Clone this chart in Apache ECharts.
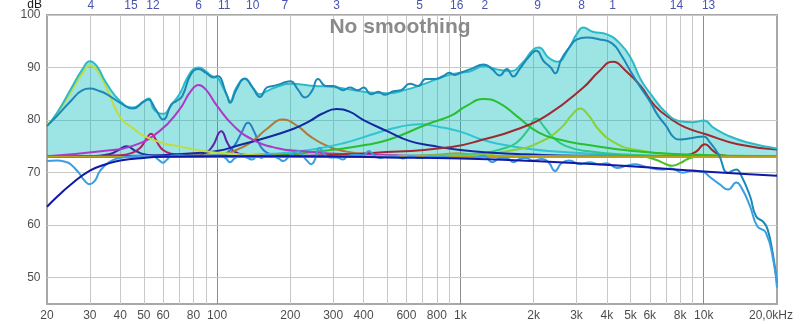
<!DOCTYPE html>
<html><head><meta charset="utf-8">
<script src="https://cdn.jsdelivr.net/npm/echarts@6/dist/echarts.min.js"></script>
<style>html,body{margin:0;padding:0;background:#fff}#c{width:800px;height:324px}</style>
</head><body><div id="c"></div><script>
const FONT = "'Liberation Sans', Arial, sans-serif";

// ---- axis ticks / labels ----
const yTickValues = [50, 60, 70, 80, 90, 100];
const xMinorGrid = [30,40,50,60,70,80,90,200,300,400,500,600,700,800,900,2000,3000,4000,5000,6000,7000,8000,9000];
const xMajorGrid = [100, 1000, 10000];
const xTickValues = [20,30,40,50,60,80,100,200,300,400,600,800,1000,2000,3000,4000,5000,6000,8000,10000,20000];
const xTickLabels = ['20','30','40','50','60','80','100','200','300','400','600','800','1k','2k','3k','4k','5k','6k','8k','10k','20,0kHz'];
const filterLabels = ['4','15','12','6','11','10','7','3','5','16','2','9','8','1','14','13'];
const filterLabelFreqs = [30.3,44.3,54.5,84,107,140,190,310,680,966,1259,2077,3148,4220,7730,10470];
const baselineDb = 73;

// ---- curves [Hz, dB] ----
const totalFilter = [[20,78.8],[22,81.4],[25,85.8],[28,89.7],[30,91.2],[32,90.3],[35,87.1],[40,83.6],[45,82.4],[50,83.6],[52.5,84.1],[55,82.0],[60,81.2],[65,83.0],[70,84.9],[75,87.8],[80,89.7],[84,90.0],[90,89.3],[95,88.4],[100,88.1],[105,86.5],[110,84.6],[113,83.6],[120,86.2],[130,87.8],[140,86.2],[150,84.9],[160,85.5],[180,86.5],[200,86.9],[250,86.5],[300,86.3],[400,85.4],[500,85.1],[600,85.8],[700,86.8],[800,87.8],[900,88.6],[1000,89.0],[1100,89.3],[1250,90.3],[1400,89.7],[1600,89.3],[1800,90.9],[2000,93.5],[2100,93.8],[2300,91.9],[2500,91.1],[2800,93.8],[3000,96.3],[3200,97.6],[3500,96.8],[4000,96.3],[4500,94.7],[5000,91.9],[5500,87.8],[6000,85.2],[7000,81.4],[8000,79.8],[9000,79.6],[10000,79.9],[11000,78.5],[12500,77.1],[15000,75.8],[20000,74.6]];
const measurement = [[20,78.9],[22,80.8],[25,83.6],[28,85.7],[30,86.0],[33,85.5],[35,85.0],[40,83.3],[45,82.2],[50,83.5],[52,83.9],[56,82.0],[60,80.1],[65,83.0],[68,83.6],[72,84.6],[78,88.7],[84,89.7],[90,89.0],[97,88.1],[100,88.4],[110,84.6],[113,83.3],[120,85.8],[130,87.9],[140,86.2],[150,84.4],[160,86.2],[170,86.5],[180,86.8],[190,87.2],[200,87.4],[215,85.8],[230,84.3],[245,85.5],[260,87.8],[280,86.5],[300,86.5],[330,85.7],[350,86.2],[380,85.7],[400,86.2],[430,84.9],[460,85.4],[490,84.8],[530,85.5],[570,85.7],[620,86.9],[670,86.5],[720,87.8],[780,87.8],[850,88.4],[900,89.0],[950,88.6],[1000,89.0],[1100,89.7],[1250,90.6],[1350,89.7],[1450,88.5],[1550,89.7],[1650,88.3],[1750,89.7],[1900,91.9],[2050,93.2],[2200,91.2],[2350,90.0],[2450,88.9],[2600,91.6],[2800,93.8],[3000,95.3],[3300,95.7],[3700,95.4],[4200,94.6],[4600,92.2],[5000,89.3],[5500,86.2],[6000,83.6],[6500,80.8],[7000,78.9],[7500,76.8],[8000,76.3],[9000,76.6],[10000,76.9],[10500,76.0],[11500,73.5],[12600,70.0],[13600,70.6],[14300,69.3],[15500,65.5],[16400,61.7],[17600,60.6],[18300,59.2],[19200,54.7],[20000,49.0]];
const predicted = [[20,72.2],[22,72.3],[24,72.0],[25,71.6],[27,70.0],[28.5,68.5],[30,67.8],[31.5,68.5],[33,70.3],[36,72.0],[40,72.8],[45,73.1],[50,73.2],[55,73.0],[58,72.3],[60,71.9],[62,72.4],[65,73.2],[70,73.3],[80,73.0],[90,73.1],[100,73.3],[108,72.8],[113,72.0],[118,72.7],[125,73.3],[133,72.8],[140,72.5],[146,73.2],[152,72.8],[160,73.4],[170,73.2],[180,72.6],[187,72.2],[195,72.8],[205,73.6],[216,74.1],[225,73.2],[235,72.2],[244,71.6],[252,72.4],[264,74.7],[275,73.6],[290,72.9],[310,72.9],[329,72.5],[345,73.2],[370,73.4],[400,73.3],[420,74.1],[440,73.4],[466,72.8],[500,73.1],[540,73.2],[580,72.7],[620,73.1],[680,72.8],[750,73.0],[850,73.0],[950,72.8],[1100,72.8],[1250,73.2],[1350,72.0],[1450,72.7],[1550,72.8],[1650,72.0],[1750,72.6],[1850,72.8],[2000,72.3],[2150,72.6],[2300,72.0],[2450,70.3],[2600,71.8],[2800,72.3],[3100,71.6],[3400,72.0],[3700,71.6],[4000,71.8],[4400,70.9],[4800,71.3],[5200,71.6],[5800,71.1],[6700,70.6],[7300,70.8],[8200,70.0],[9000,70.4],[10000,70.1],[10500,69.3],[11600,67.8],[12600,66.8],[13600,68.1],[14300,67.1],[15500,63.6],[16600,59.8],[18000,58.6],[19400,52.8],[20000,48.1]];
const target = [[20,63.5],[22,65.4],[25,67.7],[30,70.4],[35,71.6],[40,72.3],[50,72.8],[60,73.0],[100,73.1],[200,73.1],[500,72.9],[1000,72.7],[2000,72.2],[5000,71.2],[10000,70.2],[20000,69.4]];

// ---- individual filters [Hz, dB] ----
const filter1 = [[20,73],[200,73.2],[450,73.8],[920,74.9],[1240,76.3],[1700,78.2],[2300,81.1],[3200,86.2],[3700,89.2],[4220,91.1],[4800,89.3],[5500,86.5],[6300,82.7],[7400,80.1],[8400,78.6],[10200,77.3],[13800,75.4],[20000,74.4]];
const filter2 = [[20,73],[150,73.2],[270,74.1],[400,75.2],[510,76.3],[730,79.2],[920,80.9],[1050,82.6],[1250,84],[1450,83.2],[1700,80.8],[2100,77.6],[2600,76.2],[3200,75.4],[5100,74.1],[8000,73.5],[20000,73.1]];
const filter3 = [[20,73],[50,73.2],[80,73.7],[100,74.1],[125,75.3],[150,76.3],[205,78.3],[240,79.8],[270,81.2],[310,82.1],[350,81.6],[400,80],[500,77.9],[620,76],[770,75.1],[1000,74.3],[1350,73.8],[1850,73.5],[3000,73.2],[20000,73]];
const filter4 = [[20,79],[22,81.2],[25,85.2],[28,89],[30,90.4],[32,89.6],[35,86.3],[40,80.5],[45,78.5],[50,77],[60,75.6],[70,75],[85,74.2],[100,73.8],[150,73.3],[250,73.1],[20000,73]];
const filter5 = [[20,73],[100,73.2],[170,73.6],[240,74.3],[330,75.6],[450,77.5],[560,78.7],[680,79.2],[820,78.7],[1000,77.8],[1240,76.2],[1500,75.3],[1850,74.6],[2300,74.1],[3500,73.6],[6000,73.2],[20000,73]];
const filter6 = [[20,73.1],[34,74.1],[45,75.1],[58,77.9],[70,82],[78,85.5],[84,86.7],[90,85.8],[100,82.7],[117,78.9],[140,76.3],[175,74.7],[220,74.1],[350,73.5],[1000,73.1],[20000,73]];
const filter7 = [[20,73],[100,73.3],[120,74.3],[140,76],[160,78.3],[187,80.1],[215,78.8],[240,77],[280,75.2],[340,74],[450,73.4],[700,73.1],[20000,73]];
const filter8 = [[20,73],[1000,73.2],[1700,74.4],[2100,75.7],[2550,78.2],[2900,81.2],[3100,82.2],[3350,81],[3700,78.2],[4300,75.7],[5200,74.4],[8000,73.4],[20000,73.1]];
const filter9 = [[20,73],[800,73.2],[1200,73.6],[1500,74.6],[1700,75.7],[1900,78.2],[2050,80.3],[2200,78.8],[2400,76.7],[2700,75.1],[3300,74.1],[5000,73.4],[8000,73.1],[20000,73]];
const filter10 = [[20,73],[100,73.2],[110,73.8],[118,75.2],[126,77.6],[134,79.5],[142,77.8],[150,75.2],[160,73.8],[180,73.2],[220,73.05],[20000,73]];
const filter11 = [[20,73],[80,73.2],[90,73.8],[96,75.1],[104,77.9],[111,75.4],[118,74],[130,73.4],[170,73.1],[20000,73]];
const filter12 = [[20,73],[40,73.3],[45,73.8],[48,74.6],[50,75.6],[52,76.9],[53.5,77.4],[55,76.9],[57,75.6],[60,74.3],[65,73.6],[75,73.2],[100,73.05],[20000,73]];
const filter13 = [[20,73],[7000,73],[8500,73.3],[9300,74],[10100,75.4],[10900,74.2],[11800,73.3],[14000,73.05],[20000,73]];
const filter14 = [[20,73],[4000,73],[5500,73.1],[6300,72.5],[7000,71.6],[7400,71.3],[8000,71.8],[8600,72.6],[9500,73],[20000,73]];
const filter15 = [[20,73],[30,73.1],[36,73.5],[39,74.2],[42.5,75],[46,74.2],[50,73.5],[58,73.2],[80,73.05],[20000,73]];
const filter16 = [[20,73],[500,73.1],[800,73.4],[966,73.7],[1150,73.4],[1800,73.1],[20000,73]];

const filterSet = [
  [filter16,'#a8a040'],[filter14,'#48c020'],[filter13,'#a02828'],[filter15,'#2030a0'],
  [filter12,'#b02068'],[filter11,'#6020a8'],[filter10,'#2a80c8'],[filter7,'#b07838'],
  [filter5,'#30c4d0'],[filter9,'#30c888'],[filter8,'#88d038'],[filter2,'#28c030'],
  [filter3,'#1428a0'],[filter6,'#b038c8'],[filter4,'#c0dc40'],[filter1,'#a02830']
];

function line(data, color, width, z, extra) {
  return Object.assign({
    type: 'line', data: data, smooth: 0.5, symbol: 'none',
    silent: true, z: z, lineStyle: { color: color, width: width }
  }, extra || {});
}

function labelSeries(points, texts, position, distance, color, offsetFn) {
  return {
    type: 'scatter', data: points, symbol: 'circle', symbolSize: 1, silent: true, clip: false, z: 20,
    itemStyle: { color: 'rgba(0,0,0,0)' },
    label: {
      show: true, position: position, distance: distance, color: color, fontSize: 12, fontFamily: FONT,
      formatter: p => texts[p.dataIndex]
    },
    labelLayout: offsetFn || null
  };
}

const gridMarks = []
  .concat(xMinorGrid.map(v => ({ xAxis: v, lineStyle: { color: '#c8c8c8', width: 1, type: 'solid' } })))
  .concat(xMajorGrid.map(v => ({ xAxis: v, lineStyle: { color: '#8c8c8c', width: 1, type: 'solid' } })))
  .concat(yTickValues.map(v => ({ yAxis: v, lineStyle: { color: '#c8c8c8', width: 1, type: 'solid' } })));

const series = [];
series.push({
  type: 'line', data: [[20, 45]], symbol: 'none', silent: true, z: 1, clip: false, lineStyle: { width: 0 },
  markLine: { silent: true, symbol: ['none', 'none'], z: 1, animation: false, label: { show: false }, data: gridMarks }
});
series.push(line(totalFilter, 'rgba(0,0,0,0)', 0, 2, { areaStyle: { color: 'rgba(0,184,186,0.55)', origin: baselineDb } }));
filterSet.forEach((f, i) => series.push(line(f[0], f[1], 2, 3)));
series.push(line([[20, baselineDb], [20000, baselineDb]], '#b8a018', 2, 4, { smooth: false }));
series.push(line(totalFilter, '#2cbac8', 2, 5));
series.push(line(measurement, '#1c88b8', 2, 6));
series.push(line(predicted, '#3a9fe0', 2, 7));
series.push(line(target, '#1018a8', 2, 8));

// axis labels (bottom, left) and filter numbers (top)
series.push(labelSeries(xTickValues.map(v => [v, 45]), xTickLabels, 'bottom', 5, '#1a1a1a',
  p => (p.dataIndex === xTickValues.length - 1 ? { dx: -6 } : {})));
series.push(labelSeries(yTickValues.map(v => [20, v]), yTickValues.map(String), 'left', 6, '#1a1a1a'));
series.push(labelSeries(filterLabelFreqs.map(v => [v, 100]), filterLabels, 'top', 3, '#1a2898'));

const chart = echarts.init(document.getElementById('c'), null, { renderer: 'canvas' });
chart.setOption({
  animation: false,
  backgroundColor: '#ffffff',
  grid: { left: 47, right: 23, top: 15, bottom: 20, show: true, borderColor: '#a8a8a8', borderWidth: 2, backgroundColor: '#ffffff' },
  xAxis: { type: 'log', logBase: 10, min: 20, max: 20000,
    axisLine: { show: false }, axisTick: { show: false }, axisLabel: { show: false }, splitLine: { show: false } },
  yAxis: { type: 'value', min: 45, max: 100,
    axisLine: { show: false }, axisTick: { show: false }, axisLabel: { show: false }, splitLine: { show: false } },
  graphic: [
    { type: 'text', x: 42, y: 5, silent: true, style: { text: 'dB', fill: '#1a1a1a', font: '12px ' + FONT, align: 'right', verticalAlign: 'middle' } },
    { type: 'text', x: 400, y: 27, silent: true, z: 100, style: { text: 'No smoothing', fill: '#8a8a8a', font: 'bold 21px ' + FONT, align: 'center', verticalAlign: 'middle' } }
  ],
  series: series
});
</script></body></html>
